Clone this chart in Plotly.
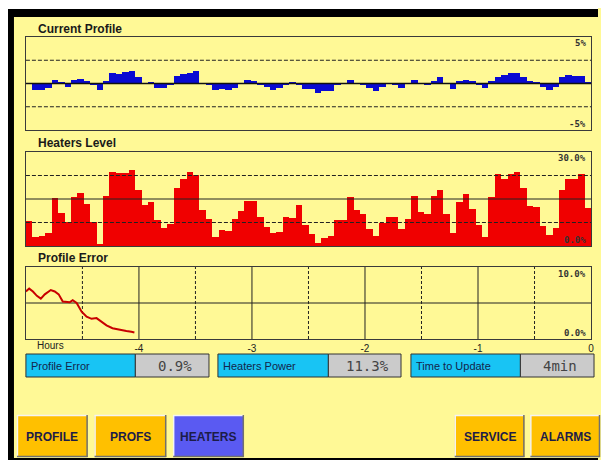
import plotly.graph_objects as go

# page is 601x460; the page body keeps an 8px margin at top/left, so the figure starts at (8, 8)
OFF = 8
W, H = 601 - OFF, 460 - OFF

# ---------------- data ----------------
zones = list(range(1, 89))

profile_dev = [0.0, -0.65, -0.7, -0.45, 0.43, 0.15, -0.35, 0.36, 0.5, 0.25,
               -0.1, -0.7, 0.32, 1.08, 0.97, 1.2, 1.3, 0.68, 0.0, 0.2,
               -0.47, -0.47, -0.2, 0.86, 0.97, 1.15, 1.3, 0.0, -0.1, -0.65,
               -0.58, -0.65, -0.43, 0.0, 0.43, 0.22, -0.1, -0.36, -0.65, -0.43,
               -0.1, 0.18, -0.2, -0.58, -0.6, -1.0, -0.83, -0.8, -0.2, 0.0,
               0.36, 0.0, -0.1, -0.47, -0.83, -0.36, 0.0, -0.1, -0.47, 0.0,
               0.43, 0.0, -0.2, 0.25, 0.65, 0.0, -0.58, 0.29, 0.43, 0.22,
               -0.2, -0.5, 0.22, 0.72, 0.94, 1.15, 1.15, 0.68, 0.22, 0.07,
               -0.36, -0.72, -0.36, 0.65, 0.94, 0.8, 0.86, 0.14]

heater_level = [8.1, 2.8, 3.2, 4.3, 15.2, 10.6, 7.8, 15.7, 16.8, 13.4,
                7.8, 0.6, 16.1, 23.7, 23.2, 23.4, 24.3, 17.9, 13.1, 14.1,
                8.3, 5.6, 7.0, 18.4, 21.3, 23.5, 22.7, 11.5, 8.5, 3.0,
                5.1, 4.9, 8.5, 11.3, 14.4, 14.4, 9.4, 6.2, 4.3, 4.5,
                9.1, 8.8, 13.1, 6.8, 3.8, 0.9, 2.4, 3.2, 8.3, 8.3,
                15.5, 11.5, 10.2, 5.3, 3.2, 7.4, 9.4, 9.1, 5.3, 8.5,
                16.0, 11.0, 10.2, 16.0, 17.9, 10.2, 4.0, 14.1, 16.5, 11.7,
                6.7, 3.0, 15.5, 23.0, 21.3, 23.0, 23.7, 18.4, 12.8, 12.3,
                6.4, 3.5, 5.6, 17.9, 21.3, 21.3, 22.9, 12.2]

err_hours = [-5.000, -4.971, -4.938, -4.903, -4.868, -4.833, -4.780, -4.745,
             -4.710, -4.674, -4.613, -4.586, -4.551, -4.507, -4.463, -4.419,
             -4.375, -4.331, -4.287, -4.234, -4.173, -4.111, -4.067, -4.040]
err_values = [6.6, 7.0, 6.6, 6.0, 5.6, 6.2, 6.8, 6.6,
              6.2, 5.2, 5.1, 5.4, 5.0, 3.8, 3.1, 2.8,
              2.9, 2.4, 1.9, 1.5, 1.25, 1.1, 1.0, 0.9]

hour_ticks = [-4, -3, -2, -1, 0]
hour_labels = ["-4", "-3", "-2", "-1", "0"]

info_labels = ["Profile Error", "Heaters Power", "Time to Update"]
info_values = ["0.9%", "11.3%", "4min"]

buttons_left = ["PROFILE", "PROFS", "HEATERS"]
buttons_right = ["SERVICE", "ALARMS"]

# ---------------- helpers (page pixel -> paper) ----------------
def px(x):
    return (x - OFF) / W

def py(y):
    return 1 - (y - OFF) / H

YEL = "#FFF996"
BOX = "#3a3a3a"

fig = go.Figure()

fig.add_trace(go.Bar(x=zones, y=profile_dev, marker=dict(color="#0A0AD2", line=dict(width=0)),
                     xaxis="x", yaxis="y", hoverinfo="skip"))
fig.add_trace(go.Bar(x=zones, y=heater_level, marker=dict(color="#F00000", line=dict(width=0)),
                     xaxis="x2", yaxis="y2", hoverinfo="skip"))
fig.add_trace(go.Scatter(x=err_hours, y=err_values, mode="lines",
                         line=dict(color="#C80000", width=2),
                         xaxis="x3", yaxis="y3", hoverinfo="skip"))

box_axis = dict(showline=True, mirror=True, linecolor=BOX, linewidth=1,
                showgrid=False, zeroline=False, ticks="", fixedrange=True)

XL, XR = 26, 594
fig.update_layout(
    width=W, height=H,
    margin=dict(l=0, r=0, t=0, b=0),
    paper_bgcolor=YEL, plot_bgcolor=YEL,
    showlegend=False, bargap=0,
    xaxis=dict(domain=[px(XL), px(XR)], range=[0.5, 88.5], showticklabels=False, anchor="y", **box_axis),
    yaxis=dict(domain=[py(130), py(37)], range=[-5, 5], showticklabels=False, anchor="x", **box_axis),
    xaxis2=dict(domain=[px(XL), px(XR)], range=[0.5, 88.5], showticklabels=False, anchor="y2", **box_axis),
    yaxis2=dict(domain=[py(246), py(152)], range=[0, 30], showticklabels=False, anchor="x2", **box_axis),
    xaxis3=dict(domain=[px(XL), px(XR)], range=[-5, 0], tickvals=hour_ticks, ticktext=hour_labels,
                tickfont=dict(family="Liberation Sans, Arial", size=10, color="#222"),
                anchor="y3", **box_axis),
    yaxis3=dict(domain=[py(339), py(267)], range=[0, 10], showticklabels=False, anchor="x3", **box_axis),
)

shapes = []
# grid lines panel 1
for v in [-2.5, 2.5]:
    shapes.append(dict(type="line", xref="x domain", yref="y", x0=0, x1=1, y0=v, y1=v,
                       line=dict(color="#222", width=1, dash="4px,2px"), layer="above"))
shapes.append(dict(type="line", xref="x domain", yref="y", x0=0, x1=1, y0=0, y1=0,
                   line=dict(color="#111", width=1.5), layer="above"))
# grid lines panel 2
for v in [7.5, 22.5]:
    shapes.append(dict(type="line", xref="x2 domain", yref="y2", x0=0, x1=1, y0=v, y1=v,
                       line=dict(color="#222", width=1, dash="4px,2px"), layer="above"))
shapes.append(dict(type="line", xref="x2 domain", yref="y2", x0=0, x1=1, y0=15, y1=15,
                   line=dict(color="#222", width=1), layer="above"))
# grid lines panel 3
shapes.append(dict(type="line", xref="x3 domain", yref="y3", x0=0, x1=1, y0=5, y1=5,
                   line=dict(color="#222", width=1), layer="below"))
for h in [-4, -3, -2, -1]:
    shapes.append(dict(type="line", xref="x3", yref="y3 domain", x0=h, x1=h, y0=0, y1=1,
                       line=dict(color="#222", width=1), layer="below"))
for h in [-4.5, -3.5, -2.5, -1.5, -0.5]:
    shapes.append(dict(type="line", xref="x3", yref="y3 domain", x0=h, x1=h, y0=0, y1=1,
                       line=dict(color="#222", width=1, dash="3px,2px"), layer="below"))

def prect(x0, y0, x1, y1, fill, line_color=None, lw=0):
    return dict(type="rect", xref="paper", yref="paper", x0=px(x0), x1=px(x1), y0=py(y1), y1=py(y0),
                fillcolor=fill, line=dict(color=line_color or fill, width=lw), layer="above")

def pline(x0, y0, x1, y1, color, lw=1):
    return dict(type="line", xref="paper", yref="paper", x0=px(x0), x1=px(x1), y0=py(y0), y1=py(y1),
                line=dict(color=color, width=lw), layer="above")

# frame
shapes.append(prect(8, 8, 601, 9, "white"))
shapes.append(prect(8, 9, 601, 17, "black"))
shapes.append(prect(8, 9, 14, 460, "black"))
shapes.append(prect(8, 458, 601, 460, "black"))

annotations = []

# panel titles
for txt, y in [("Current Profile", 29), ("Heaters Level", 143), ("Profile Error", 258)]:
    annotations.append(dict(text="<b>" + txt + "</b>", x=px(36), y=py(y), xref="paper", yref="paper",
                            xanchor="left", yanchor="middle", showarrow=False,
                            font=dict(family="Liberation Sans, Arial", size=12, color="#1a1a1a")))

# scale labels
mono = dict(family="DejaVu Sans Mono", size=9, color="#333")
for txt, y in [("5%", 43), ("-5%", 124), ("30.0%", 158), ("0.0%", 240), ("10.0%", 274), ("0.0%", 333)]:
    annotations.append(dict(text="<b>" + txt + "</b>", x=px(591), y=py(y), xref="paper", yref="paper",
                            xanchor="right", yanchor="middle", showarrow=False, font=mono))

annotations.append(dict(text="Hours", x=px(35), y=py(345), xref="paper", yref="paper",
                        xanchor="left", yanchor="middle", showarrow=False,
                        font=dict(family="Liberation Sans, Arial", size=10, color="#222")))

# info boxes
info_x = [(26, 136, 210), (219, 330, 403), (413, 523, 597)]
for (a, b, c), lab, val in zip(info_x, info_labels, info_values):
    shapes.append(prect(a, 354, b, 377, "#18C4F4", "#333", 1))
    shapes.append(prect(b, 354, c, 377, "#CBCBCB", "#333", 1))
    annotations.append(dict(text=lab, x=px(a + 3), y=py(366), xref="paper", yref="paper",
                            xanchor="left", yanchor="middle", showarrow=False,
                            font=dict(family="Liberation Sans, Arial", size=11, color="#14244a")))
    annotations.append(dict(text=val, x=px((b + c) / 2 + 3), y=py(366), xref="paper", yref="paper",
                            xanchor="center", yanchor="middle", showarrow=False,
                            font=dict(family="DejaVu Sans Mono", size=14, color="#444")))

# buttons
btn_pos_left = [(17, 88), (95, 167), (174, 245)]
btn_pos_right = [(457, 527), (533, 603)]
for (a, b), lab in list(zip(btn_pos_left, buttons_left)) + list(zip(btn_pos_right, buttons_right)):
    fill = "#5A5AF2" if lab == "HEATERS" else "#FFC000"
    shapes.append(prect(a, 415, b, 457, fill))
    shapes.append(pline(a, 415.5, b, 415.5, "#F4F4F4", 1.5))
    shapes.append(pline(a + 0.5, 415, a + 0.5, 457, "#F4F4F4", 1.5))
    shapes.append(pline(a, 456.5, b, 456.5, "#707070", 1.5))
    shapes.append(pline(b - 0.5, 415, b - 0.5, 457, "#707070", 1.5))
    annotations.append(dict(text="<b>" + lab + "</b>", x=px((a + b) / 2), y=py(437), xref="paper", yref="paper",
                            xanchor="center", yanchor="middle", showarrow=False,
                            font=dict(family="Liberation Sans, Arial", size=12, color="#1c1c48")))

fig.update_layout(shapes=shapes, annotations=annotations)

# keep the 8px offset at top/left only, so the page does not overflow the 601x460 window
fig.write_html("out.html", config={"displayModeBar": False},
               post_script="document.body.style.margin='8px 0 0 8px';document.body.style.overflow='hidden';")
